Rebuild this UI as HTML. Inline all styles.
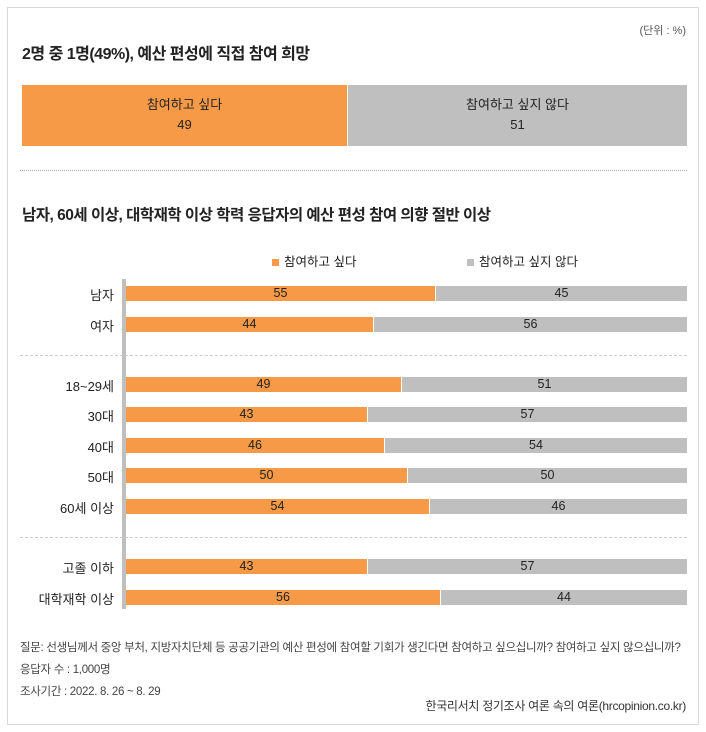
<!DOCTYPE html>
<html><head><meta charset="utf-8"><style>
body{margin:0;width:706px;height:732px;background:#fff;font-family:"Liberation Sans","Noto Sans CJK KR",sans-serif;color:#222;position:relative;overflow:hidden}
.a{position:absolute}
.frame{left:7px;top:7px;width:690px;height:716px;border:1px solid #d8d8d8}
.bo{background:#f79a48}.bg{background:#bfbfbf}
.lbl{width:110px;text-align:right;font-size:13px;left:4px}
.bar{height:15px;font-size:12.5px;line-height:15px;text-align:center}
</style></head><body>
<div class="a frame"></div>
<div class="a" style="right:20px;top:22px;font-size:11px;color:#555">(단위 : %)</div>
<div class="a" style="left:22px;top:40px;font-size:16px;font-weight:bold;letter-spacing:-0.5px">2명 중 1명(49%), 예산 편성에 직접 참여 희망</div>
<div class="a bo" style="left:22px;top:85px;width:325px;height:61px;text-align:center;font-size:13px;line-height:20px;padding-top:10px;box-sizing:border-box">참여하고 싶다<br>49</div>
<div class="a bg" style="left:348px;top:85px;width:339px;height:61px;text-align:center;font-size:13px;line-height:20px;padding-top:10px;box-sizing:border-box">참여하고 싶지 않다<br>51</div>
<div class="a" style="left:20px;top:170px;width:667px;border-top:1px dotted #aaa"></div>
<div class="a" style="left:22px;top:203px;font-size:15.5px;font-weight:bold;letter-spacing:-0.5px">남자, 60세 이상, 대학재학 이상 학력 응답자의 예산 편성 참여 의향 절반 이상</div>
<div class="a" style="left:272px;top:251px;font-size:12.5px"><span style="display:inline-block;width:7px;height:7px;background:#f79a48;margin-right:5px"></span>참여하고 싶다</div>
<div class="a" style="left:467px;top:251px;font-size:12.5px"><span style="display:inline-block;width:7px;height:7px;background:#bfbfbf;margin-right:5px"></span>참여하고 싶지 않다</div>
<div class="a" style="left:122px;top:279px;width:4px;height:330px;background:#bfbfbf"></div>
<div class="a" style="left:20px;top:355px;width:667px;border-top:1px dashed #ccc"></div>
<div class="a" style="left:20px;top:537px;width:667px;border-top:1px dashed #ccc"></div>
<div id="rows"></div>
<script>
var d=[["남자",55,294],["여자",44,325],["18~29세",49,385],["30대",43,415],["40대",46,446],["50대",50,476],["60세 이상",54,507],["고졸 이하",43,567],["대학재학 이상",56,598]];
var h="";d.forEach(function(r){var t=r[2]-8,w=Math.round(561*r[1]/100);
h+='<div class="a lbl" style="top:'+(t-1)+'px">'+r[0]+'</div>';
h+='<div class="a bar bo" style="left:126px;top:'+t+'px;width:'+w+'px">'+r[1]+'</div>';
h+='<div class="a bar bg" style="left:'+(127+w)+'px;top:'+t+'px;width:'+(560-w)+'px">'+(100-r[1])+'</div>';});
document.getElementById("rows").innerHTML=h;
</script>
<div class="a" style="left:20px;top:637px;font-size:11.5px;color:#444;line-height:22px;letter-spacing:-0.3px">질문: 선생님께서 중앙 부처, 지방자치단체 등 공공기관의 예산 편성에 참여할 기회가 생긴다면 참여하고 싶으십니까? 참여하고 싶지 않으십니까?<br>응답자 수 : 1,000명<br>조사기간 : 2022. 8. 26 ~ 8. 29</div>
<div class="a" style="right:20px;top:697px;font-size:12px;color:#333;letter-spacing:-0.3px">한국리서치 정기조사 여론 속의 여론(hrcopinion.co.kr)</div>
</body></html>
